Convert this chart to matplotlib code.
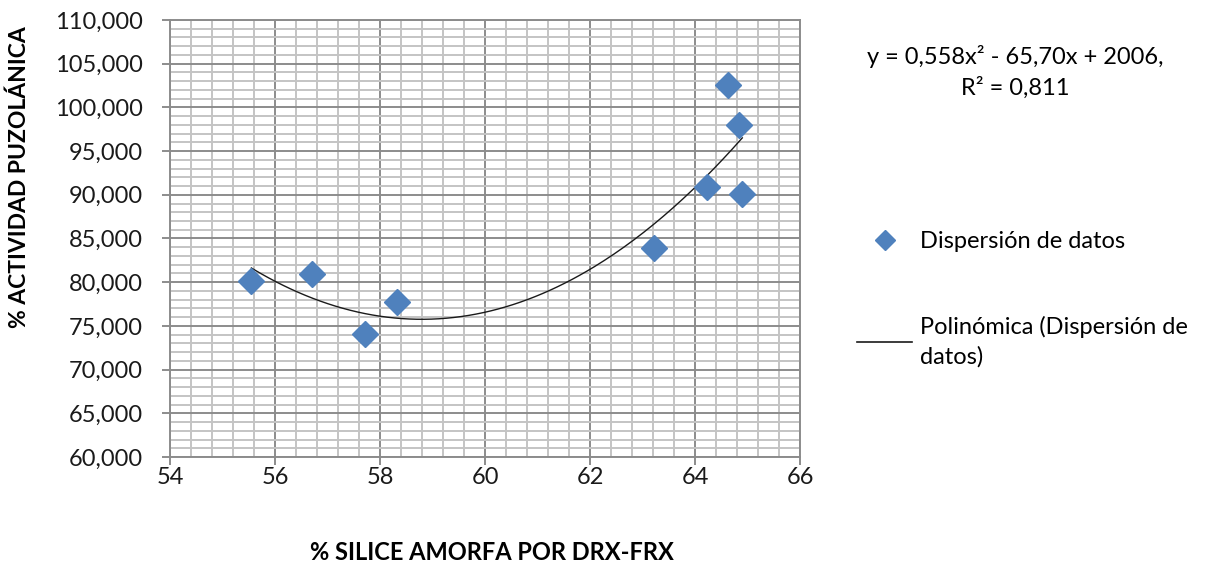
import numpy as np
import matplotlib.pyplot as plt
from matplotlib.lines import Line2D
from matplotlib.ticker import MultipleLocator, FuncFormatter

# ── DATA ──────────────────────────────────────────────────────────────────────
silice = [55.55, 56.70, 57.71, 58.32, 63.22, 64.23, 64.63, 64.84, 64.90]
actividad = [80.1, 80.9, 74.1, 77.7, 83.9, 90.9, 102.6, 98.0, 90.1]

BLUE = "#4F81BD"
MAJ = "#8C8C8C"
MIN = "#C4C4C4"
FONT = "Lato"
FS = 17

fig = plt.figure(figsize=(12.22, 5.66), dpi=100)
ax = fig.add_axes([0.1391, 0.1926, 0.6547 - 0.1391, 0.9647 - 0.1926])

# grid
ax.xaxis.set_major_locator(MultipleLocator(2))
ax.xaxis.set_minor_locator(MultipleLocator(0.4))
ax.yaxis.set_major_locator(MultipleLocator(5))
ax.yaxis.set_minor_locator(MultipleLocator(1))
ax.grid(which="minor", color=MIN, linewidth=1.4, zorder=0)
ax.grid(which="major", color=MAJ, linewidth=1.4, zorder=0)
ax.set_axisbelow(True)

# polynomial trend
coef = np.polyfit(silice, actividad, 2)
xs = np.linspace(min(silice), max(silice), 200)
ax.plot(xs, np.polyval(coef, xs), color="#1A1A1A", linewidth=1.0, zorder=2)

ax.plot(silice, actividad, linestyle="none", marker="D", markersize=13,
        color=BLUE, zorder=3)

ax.set_xlim(54, 66)
ax.set_ylim(60, 110)
ax.yaxis.set_major_formatter(FuncFormatter(lambda v, p: f"{v:.3f}".replace(".", ",")))
ax.tick_params(which="major", width=1.4, color=MAJ, labelsize=FS,
               labelcolor="#1A1A1A")
ax.tick_params(axis="y", which="major", length=6, pad=13.5)
ax.tick_params(axis="x", which="major", length=6, pad=1)
ax.tick_params(which="minor", length=0)
for tl in ax.get_xticklabels() + ax.get_yticklabels():
    tl.set_fontfamily(FONT)
for s in ax.spines.values():
    s.set_color(MAJ)
    s.set_linewidth(1.4)

ax.set_xlabel("% SILICE AMORFA POR DRX-FRX", fontsize=FS, fontweight="bold",
              fontfamily=FONT)
ax.set_ylabel("% ACTIVIDAD PUZOLÁNICA", fontsize=16.5, fontweight="bold",
              fontfamily=FONT)
ax.xaxis.set_label_coords(0.511, -0.192)
ax.yaxis.set_label_coords(-0.222, 0.64)

# equation
fig.text(1015 / 1222, 1 - 57 / 566, "y = 0,558x² - 65,70x + 2006,",
         ha="center", va="center", fontsize=FS, fontfamily=FONT)
fig.text(1015 / 1222, 1 - 88 / 566, "R² = 0,811",
         ha="center", va="center", fontsize=FS, fontfamily=FONT)

# legend
handles = [
    Line2D([], [], linestyle="none", marker="D", markersize=10, color=BLUE),
    Line2D([], [], color="#1A1A1A", linewidth=1.2),
]
labels = ["Dispersión de datos", "Polinómica (Dispersión de\ndatos)"]
leg = fig.legend(handles, labels, loc="upper left",
                 bbox_to_anchor=(848 / 1222, 1 - 222 / 566),
                 frameon=False, handlelength=2.3, handletextpad=0.33,
                 labelspacing=2.68, borderaxespad=0,
                 prop={"family": FONT, "size": FS})
for t in leg.get_texts():
    t.set_linespacing(1.45)

fig.savefig("out.png", dpi=100)
